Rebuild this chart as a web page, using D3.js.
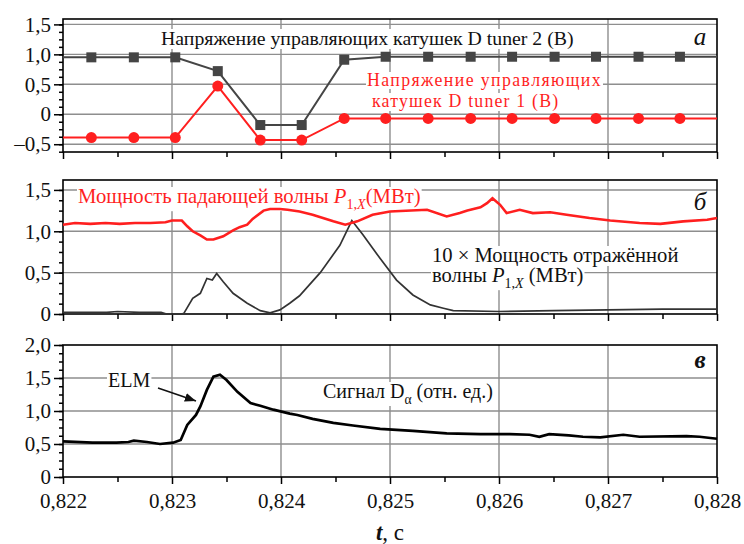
<!DOCTYPE html>
<html>
<head>
<meta charset="utf-8">
<script src="https://cdn.jsdelivr.net/npm/d3@7"></script>
<style>
body { margin: 0; background: #fff; }
svg text { font-family: "Liberation Serif", "DejaVu Serif", "Times New Roman", Tinos, serif; }
</style>
</head>
<body>
<div id="chart"></div>
<script>
let width = 744
let height = 544
let left = 63, right = 717

let xTicks = [0.822, 0.823, 0.824, 0.825, 0.826, 0.827, 0.828]

// panel a: control coil voltages (markers)
let tunerTimes = [0.82226, 0.82265, 0.82303, 0.82342, 0.82381, 0.82419, 0.82458, 0.82496,
                  0.82535, 0.82574, 0.82612, 0.82651, 0.82689, 0.82728, 0.82766]
let tuner2 = [0.95, 0.95, 0.95, 0.72, -0.18, -0.18, 0.91, 0.96, 0.96, 0.96, 0.96, 0.96, 0.96, 0.96, 0.96]
let tuner1 = [-0.39, -0.39, -0.39, 0.47, -0.43, -0.43, -0.07, -0.07, -0.07, -0.07, -0.07, -0.07, -0.07, -0.07, -0.07]

// panel b: incident power and 10x reflected power, [t, MW]
let incidentPower = [
  [0.82200, 1.08], [0.82211, 1.10], [0.82225, 1.09], [0.82239, 1.10], [0.82252, 1.09],
  [0.82266, 1.10], [0.82280, 1.10], [0.82294, 1.11], [0.82300, 1.13], [0.82309, 1.13],
  [0.82314, 1.06], [0.82319, 1.00], [0.82326, 0.95], [0.82332, 0.90], [0.82338, 0.90],
  [0.82347, 0.94], [0.82356, 1.01], [0.82362, 1.05], [0.82369, 1.08], [0.82374, 1.15],
  [0.82384, 1.25], [0.82390, 1.27], [0.82399, 1.27], [0.82406, 1.26], [0.82417, 1.24],
  [0.82429, 1.20], [0.82448, 1.12], [0.82459, 1.08], [0.82470, 1.12], [0.82484, 1.20],
  [0.82500, 1.24], [0.82534, 1.26], [0.82552, 1.18], [0.82564, 1.22], [0.82571, 1.25],
  [0.82583, 1.29], [0.82589, 1.34], [0.82594, 1.40], [0.82601, 1.32], [0.82607, 1.22],
  [0.82619, 1.26], [0.82631, 1.22], [0.82647, 1.23], [0.82662, 1.20], [0.82683, 1.16],
  [0.82702, 1.13], [0.82729, 1.10], [0.82748, 1.09], [0.82769, 1.12], [0.82791, 1.14],
  [0.82800, 1.16]
]
let reflectedPower = [
  [0.82200, 0.02], [0.82220, 0.02], [0.82240, 0.02], [0.82250, 0.03], [0.82270, 0.02],
  [0.82290, 0.02], [0.82295, 0.00], [0.82309, 0.00], [0.82311, 0.01], [0.82319, 0.19],
  [0.82326, 0.25], [0.82332, 0.43], [0.82337, 0.41], [0.82341, 0.49], [0.82347, 0.39],
  [0.82356, 0.25], [0.82369, 0.13], [0.82381, 0.04], [0.82390, 0.015], [0.82399, 0.05],
  [0.82408, 0.13], [0.82417, 0.22], [0.82436, 0.50], [0.82454, 0.83], [0.82465, 1.13],
  [0.82475, 0.96], [0.82491, 0.67], [0.82506, 0.41], [0.82521, 0.23], [0.82537, 0.11],
  [0.82549, 0.07], [0.82558, 0.04], [0.82600, 0.03], [0.82650, 0.04], [0.82700, 0.05],
  [0.82750, 0.06], [0.82800, 0.06]
]

// panel c: D-alpha signal (a.u.)
let dAlpha = [
  [0.82200, 0.54], [0.82227, 0.52], [0.82249, 0.52], [0.82260, 0.53], [0.82265, 0.55],
  [0.82277, 0.53], [0.82289, 0.50], [0.82301, 0.52], [0.82308, 0.56], [0.82314, 0.79],
  [0.82322, 0.94], [0.82326, 1.07], [0.82332, 1.32], [0.82338, 1.52], [0.82344, 1.55],
  [0.82350, 1.47], [0.82360, 1.29], [0.82372, 1.12], [0.82381, 1.08], [0.82393, 1.02],
  [0.82408, 0.96], [0.82415, 0.94], [0.82429, 0.88], [0.82448, 0.82], [0.82466, 0.78],
  [0.82491, 0.73], [0.82521, 0.70], [0.82552, 0.66], [0.82583, 0.65], [0.82610, 0.65],
  [0.82628, 0.64], [0.82637, 0.61], [0.82646, 0.65], [0.82664, 0.63], [0.82677, 0.61],
  [0.82693, 0.60], [0.82714, 0.64], [0.82729, 0.61], [0.82772, 0.62], [0.82784, 0.61],
  [0.82800, 0.58]
]

let ticksA = [-0.5, 0, 0.5, 1, 1.5]
let ticksB = [0, 0.5, 1, 1.5]
let ticksC = [0, 0.5, 1, 1.5, 2]

let red = "#ff1f1f"
let dark = "#454545"
let gridColor = "#8e8e8e"
let serif = "'Liberation Serif', 'DejaVu Serif', 'Times New Roman', Tinos, serif"

let svg = d3.select("#chart")
            .append("svg")
            .attr("width", width)
            .attr("height", height)
            .attr("font-family", serif)

let xScale = d3.scaleLinear()
    .domain([xTicks[0], xTicks[xTicks.length - 1]])
    .range([left, right])

function fmtY(d) {
    if (d === 0) return "0"
    return (d < 0 ? "\u2013" : "") + d3.format(".1f")(Math.abs(d)).replace(".", ",")
}
function fmtX(d) { return d3.format(".3f")(d).replace(".", ",") }

// one stacked panel: grid, frame, axes. returns its y scale
function makePanel(top, bottom, domain, yTicks, xLabels) {
    let y = d3.scaleLinear().domain(domain).range([bottom, top])
    let g = svg.append("g")

    g.selectAll(".hgrid")
        .data(yTicks.filter(d => y(d) > top + 1 && y(d) < bottom - 1))
        .enter().append("line")
        .attr("x1", left).attr("x2", right)
        .attr("y1", d => y(d)).attr("y2", d => y(d))
        .attr("stroke", gridColor).attr("stroke-width", 1.4)

    g.selectAll(".vgrid")
        .data(xTicks.slice(1, -1))
        .enter().append("line")
        .attr("x1", d => xScale(d)).attr("x2", d => xScale(d))
        .attr("y1", top).attr("y2", bottom)
        .attr("stroke", gridColor).attr("stroke-width", 1.4)

    let step = 0.125
    let minor = d3.range(Math.ceil(domain[0] / step), Math.floor(domain[1] / step) + 1).map(i => i * step)

    g.append("g")
        .attr("transform", "translate(" + left + ",0)")
        .call(d3.axisLeft(y).tickValues(minor).tickSize(4).tickFormat(""))
    g.append("g")
        .attr("class", "axis")
        .attr("transform", "translate(" + left + ",0)")
        .call(d3.axisLeft(y).tickValues(yTicks).tickSize(9).tickPadding(3).tickFormat(fmtY))

    g.append("g")
        .attr("transform", "translate(0," + bottom + ")")
        .call(d3.axisBottom(xScale).tickValues(d3.range(0, 6).map(i => 0.8225 + i * 0.001)).tickSize(5).tickFormat(""))
    g.append("g")
        .attr("class", "axis")
        .attr("transform", "translate(0," + bottom + ")")
        .call(d3.axisBottom(xScale).tickValues(xTicks).tickSize(7).tickPadding(9)
              .tickFormat(xLabels ? fmtX : ""))

    g.selectAll(".domain").remove()
    g.selectAll(".axis").attr("font-family", serif)
    g.selectAll(".tick line").attr("stroke", "#000").attr("stroke-width", 1.5)
    g.selectAll(".tick text").attr("fill", "#111").attr("font-size", 21)

    g.append("rect")
        .attr("x", left).attr("y", top)
        .attr("width", right - left).attr("height", bottom - top)
        .attr("fill", "none").attr("stroke", "#000").attr("stroke-width", 1.6)
    return y
}

function addLabel(x, y, parts, color, size, bg, spacing) {
    let t = svg.append("text").attr("x", x).attr("y", y)
        .attr("fill", color).attr("font-size", size)
    if (spacing) t.attr("letter-spacing", spacing)
    let shift = 0
    parts.forEach(function(p) {
        let s = t.append("tspan").text(p.t)
        let want = p.sub ? size * 0.3 : 0
        if (want !== shift) { s.attr("dy", want - shift); shift = want }
        if (p.sub) s.attr("font-size", size * 0.68)
        if (p.i) s.attr("font-style", "italic")
    })
    if (bg) {
        let b = t.node().getBBox()
        svg.insert("rect", () => t.node())
            .attr("x", b.x - 1).attr("y", b.y + 2)
            .attr("width", b.width + 2).attr("height", b.height - 3)
            .attr("fill", "#fff")
    }
    return t
}

function panelLetter(x, y, s, bold) {
    svg.append("text").attr("x", x).attr("y", y).attr("text-anchor", "middle")
        .attr("font-size", 25).attr("font-style", "italic")
        .attr("font-weight", bold ? "bold" : "normal")
        .attr("fill", "#111").text(s)
}

let line = d3.line()

// ---- panel a
let yA = makePanel(19, 152, [-0.63, 1.59], ticksA, false)

addLabel(161, 45, [{t: "Напряжение управляющих катушек D tuner 2 (В)"}], "#111", 19.8, true)
addLabel(367, 86, [{t: "Напряжение управляющих"}], red, 17.8, true, 1.4)
addLabel(372, 107, [{t: "катушек D tuner 1 (В)"}], red, 17.8, true, 1.2)
panelLetter(700, 45, "а", false)

function withEdges(vals) {
    let pts = tunerTimes.map((t, i) => [xScale(t), yA(vals[i])])
    pts.unshift([left, yA(vals[0])])
    pts.push([right, yA(vals[vals.length - 1])])
    return pts
}

svg.append("path").attr("d", line(withEdges(tuner2)))
    .attr("fill", "none").attr("stroke", dark).attr("stroke-width", 2)
svg.append("path").attr("d", line(withEdges(tuner1)))
    .attr("fill", "none").attr("stroke", red).attr("stroke-width", 2)

svg.selectAll(".sq").data(tuner2).enter().append("rect")
    .attr("x", (d, i) => xScale(tunerTimes[i]) - 5)
    .attr("y", d => yA(d) - 5)
    .attr("width", 10).attr("height", 10)
    .attr("fill", dark)
svg.selectAll(".dot").data(tuner1).enter().append("circle")
    .attr("cx", (d, i) => xScale(tunerTimes[i]))
    .attr("cy", d => yA(d))
    .attr("r", 5.5)
    .attr("fill", red)

// ---- panel b
let yB = makePanel(180, 314, [0, 1.62], ticksB, false)

addLabel(78, 203, [{t: "Мощность падающей волны "}, {t: "P", i: true}, {t: "1,", sub: true}, {t: "X", sub: true, i: true}, {t: "(МВт)"}], red, 20.7, true)
addLabel(432, 262, [{t: "10 × Мощность отражённой"}], "#111", 20.6, true)
addLabel(432, 282, [{t: "волны "}, {t: "P", i: true}, {t: "1,", sub: true}, {t: "X", sub: true, i: true}, {t: " (МВт)"}], "#111", 20.6, true)
panelLetter(700, 210, "б", false)

svg.append("path").attr("d", line(reflectedPower.map(d => [xScale(d[0]), yB(d[1])])))
    .attr("fill", "none").attr("stroke", "#333").attr("stroke-width", 1.7)
svg.append("path").attr("d", line(incidentPower.map(d => [xScale(d[0]), yB(d[1])])))
    .attr("fill", "none").attr("stroke", red).attr("stroke-width", 2.6)

// ---- panel c
let yC = makePanel(345, 477, [0, 2], ticksC, true)

addLabel(108, 387, [{t: "ELM"}], "#111", 20, true)
addLabel(323, 398, [{t: "Сигнал D"}, {t: "α", sub: true}, {t: " (отн. ед.)"}], "#111", 20, true)
panelLetter(700, 368, "в", true)

svg.append("path").attr("d", line(dAlpha.map(d => [xScale(d[0]), yC(d[1])])))
    .attr("fill", "none").attr("stroke", "#000").attr("stroke-width", 2.7)

svg.append("defs").append("marker")
    .attr("id", "arrow").attr("viewBox", "0 0 10 10")
    .attr("refX", 10).attr("refY", 5)
    .attr("markerWidth", 7).attr("markerHeight", 7)
    .attr("orient", "auto")
    .append("path").attr("d", "M0,1 L10,5 L0,9 Z").attr("fill", "#111")
svg.append("line")
    .attr("x1", 158).attr("y1", 388).attr("x2", 196).attr("y2", 401)
    .attr("stroke", "#111").attr("stroke-width", 1.6)
    .attr("marker-end", "url(#arrow)")

// axis title
let xt = svg.append("text").attr("x", 390).attr("y", 540).attr("text-anchor", "middle")
    .attr("font-size", 23).attr("fill", "#111")
xt.append("tspan").attr("font-style", "italic").attr("font-weight", "bold").text("t")
xt.append("tspan").text(", с")
</script>
</body>
</html>
